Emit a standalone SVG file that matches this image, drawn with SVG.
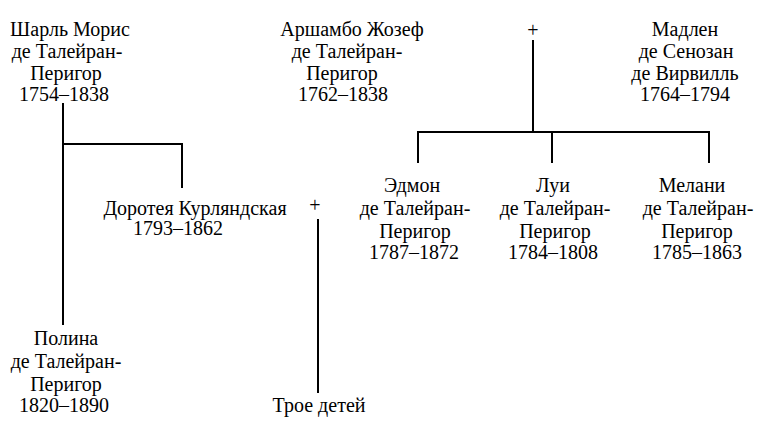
<svg xmlns="http://www.w3.org/2000/svg" width="764" height="429" viewBox="0 0 764 429">
<style>
text{font-family:"Liberation Serif","Times New Roman",serif;font-size:20px;fill:#000;text-anchor:middle}
.c line{stroke:#000;stroke-width:2}
</style>
<rect width="764" height="429" fill="#fff"/>
<g class="c" id="connectors">
<line x1="63" y1="103" x2="63" y2="325"/>
<line x1="62" y1="144" x2="183" y2="144"/>
<line x1="182" y1="143" x2="182" y2="188"/>
<line x1="318" y1="219" x2="318" y2="393"/>
<line x1="533" y1="40" x2="533" y2="133"/>
<line x1="417" y1="132" x2="710" y2="132"/>
<line x1="418" y1="131" x2="418" y2="163"/>
<line x1="552" y1="131" x2="552" y2="163"/>
<line x1="709" y1="131" x2="709" y2="163"/>
</g>
<g id="sharl">
<text x="70" y="36">Шарль Морис</text>
<text x="67" y="58">де Талейран-</text>
<text x="66" y="80">Перигор</text>
<text x="64" y="101">1754–1838</text>
</g>
<g id="arshambo">
<text x="352" y="36">Аршамбо Жозеф</text>
<text x="347" y="58">де Талейран-</text>
<text x="342" y="80">Перигор</text>
<text x="343" y="101">1762–1838</text>
</g>
<g id="plus1"><text x="533" y="37">+</text></g>
<g id="madlen">
<text x="685" y="36">Мадлен</text>
<text x="686" y="58">де Сенозан</text>
<text x="685" y="80">де Вирвилль</text>
<text x="685" y="101">1764–1794</text>
</g>
<g id="doroteya">
<text x="195" y="215">Доротея Курляндская</text>
<text x="178" y="235">1793–1862</text>
</g>
<g id="plus2"><text x="315" y="212">+</text></g>
<g id="edmon">
<text x="412" y="192">Эдмон</text>
<text x="415" y="215">де Талейран-</text>
<text x="415" y="238">Перигор</text>
<text x="414" y="259">1787–1872</text>
</g>
<g id="lui">
<text x="553" y="192">Луи</text>
<text x="555" y="215">де Талейран-</text>
<text x="555" y="238">Перигор</text>
<text x="553" y="259">1784–1808</text>
</g>
<g id="melani">
<text x="692" y="192">Мелани</text>
<text x="698" y="215">де Талейран-</text>
<text x="697" y="238">Перигор</text>
<text x="697" y="259">1785–1863</text>
</g>
<g id="polina">
<text x="66" y="345">Полина</text>
<text x="66" y="368">де Талейран-</text>
<text x="66" y="391">Перигор</text>
<text x="64" y="412">1820–1890</text>
</g>
<g id="troe">
<text x="319" y="412">Трое детей</text>
</g>
</svg>
